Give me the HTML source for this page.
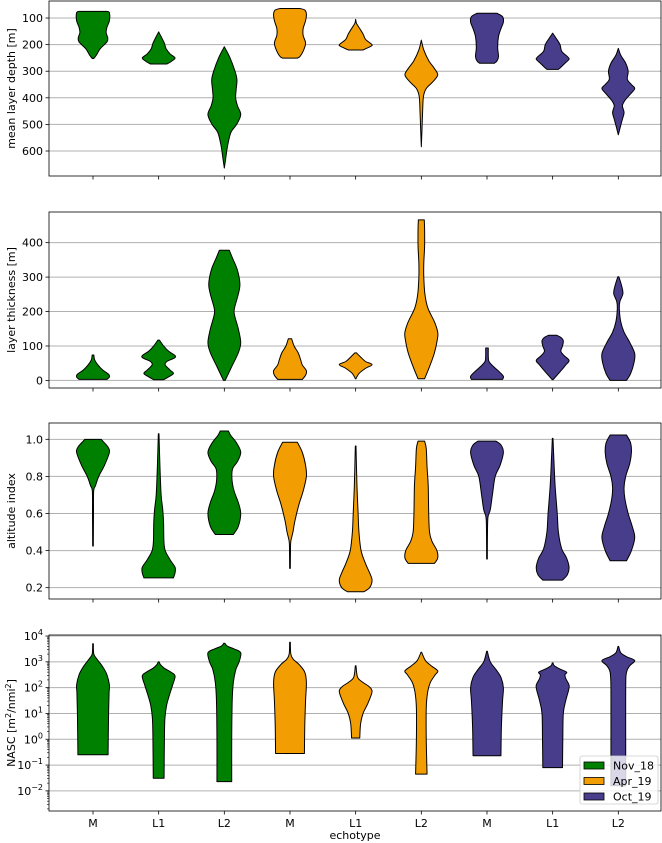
<!DOCTYPE html>
<html><head><meta charset="utf-8"><style>
body{margin:0;background:#fff;}
svg{display:block;font-family:"DejaVu Sans","Liberation Sans",sans-serif;}
</style></head><body>
<svg id="chart" width="662" height="843" viewBox="0 0 662 843" xmlns="http://www.w3.org/2000/svg"></svg>
<script>
const categories = ["M","L1","L2","M","L1","L2","M","L1","L2"];
const seasons = ["Nov_18","Apr_19","Oct_19"];
const seasonColors = ["#008000","#f29e02","#483d8b"];
const depthTicks = [100,200,300,400,500,600];
const thicknessTicks = [0,100,200,300,400];
const altitudeTicks = [0.2,0.4,0.6,0.8,1.0];
const nascTicks = [-2,-1,0,1,2,3,4];

const depthProfiles = [
 [[75,0.85],[80,1],[110,1],[135,0.85],[155,0.8],[175,0.9],[190,0.85],[215,0.45],[240,0.2],[252,0.05]],
 [[152,0],[170,0.15],[195,0.35],[215,0.45],[235,0.7],[250,1.0],[262,0.8],[273,0.5]],
 [[208,0],[250,0.35],[300,0.65],[332,0.77],[370,0.72],[400,0.69],[430,0.8],[463,1],[500,0.75],[530,0.4],[580,0.2],[630,0.08],[664,0]],
 [[64,0.6],[70,0.9],[85,1],[110,0.95],[140,0.8],[165,0.8],[195,0.95],[225,0.8],[245,0.6],[251,0.45]],
 [[105,0],[120,0.05],[140,0.25],[160,0.45],[180,0.6],[195,0.9],[203,1],[213,0.7],[220,0.45]],
 [[183,0],[220,0.15],[260,0.45],[290,0.8],[314,1],[340,0.7],[365,0.3],[395,0.13],[450,0.08],[520,0.04],[584,0]],
 [[82,0.6],[95,0.95],[115,1],[140,0.85],[170,0.7],[210,0.65],[245,0.7],[262,0.6],[270,0.45]],
 [[157,0],[175,0.2],[200,0.45],[225,0.55],[245,0.9],[255,1],[270,0.75],[285,0.5],[293,0.35]],
 [[214,0],[240,0.15],[270,0.45],[300,0.6],[330,0.55],[350,0.8],[365,1],[385,0.75],[410,0.4],[430,0.25],[455,0.35],[480,0.25],[510,0.12],[539,0]]
];
const thicknessProfiles = [
 [[3,0.85],[10,1],[18,0.95],[30,0.6],[45,0.3],[60,0.1],[74,0.05]],
 [[2,0.3],[10,0.6],[20,0.9],[30,0.7],[45,0.4],[55,0.5],[65,0.95],[72,1],[85,0.6],[100,0.3],[117,0.05]],
 [[0,0.05],[40,0.45],[80,0.85],[110,1],[150,0.85],[190,0.62],[210,0.62],[250,0.85],[280,0.95],[320,0.8],[355,0.5],[378,0.3]],
 [[3,0.75],[15,0.95],[28,1],[45,0.75],[60,0.65],[80,0.5],[100,0.25],[121,0.1]],
 [[5,0.02],[20,0.2],[35,0.6],[46,1],[55,0.6],[68,0.3],[80,0.05]],
 [[5,0.2],[40,0.5],[80,0.8],[120,0.98],[140,1],[170,0.8],[210,0.4],[250,0.22],[300,0.15],[340,0.15],[390,0.2],[440,0.2],[466,0.18]],
 [[3,0.95],[12,1],[25,0.75],[40,0.4],[55,0.12],[70,0.08],[94,0.08]],
 [[2,0.02],[25,0.45],[45,0.8],[58,1],[72,0.7],[85,0.5],[100,0.6],[115,0.65],[125,0.5],[131,0.25]],
 [[0,0.5],[20,0.75],[50,0.95],[78,1],[110,0.7],[140,0.35],[170,0.15],[210,0.06],[230,0.1],[252,0.28],[275,0.2],[301,0.03]]
];
const altitudeProfiles = [
 [[0.425,0.02],[0.6,0.03],[0.72,0.04],[0.75,0.15],[0.8,0.35],[0.86,0.7],[0.93,1],[0.96,0.9],[0.99,0.6],[1.0,0.5]],
 [[0.253,0.9],[0.28,1],[0.31,1],[0.35,0.7],[0.4,0.4],[0.45,0.32],[0.55,0.3],[0.62,0.25],[0.7,0.15],[0.85,0.08],[1.03,0.02]],
 [[0.487,0.55],[0.53,0.85],[0.6,1],[0.66,0.85],[0.72,0.6],[0.78,0.47],[0.84,0.5],[0.88,0.8],[0.93,1],[0.98,0.75],[1.02,0.4],[1.045,0.25]],
 [[0.304,0.02],[0.4,0.03],[0.45,0.05],[0.5,0.18],[0.56,0.3],[0.65,0.55],[0.72,0.8],[0.8,1],[0.86,0.95],[0.93,0.75],[0.984,0.45]],
 [[0.178,0.5],[0.2,0.85],[0.24,1],[0.28,0.85],[0.33,0.6],[0.4,0.33],[0.5,0.2],[0.6,0.15],[0.75,0.08],[0.964,0.02]],
 [[0.331,0.8],[0.36,1],[0.4,0.95],[0.45,0.65],[0.5,0.5],[0.6,0.45],[0.75,0.42],[0.85,0.35],[0.95,0.3],[0.99,0.2]],
 [[0.355,0.02],[0.5,0.03],[0.58,0.06],[0.62,0.2],[0.7,0.33],[0.8,0.5],[0.86,0.8],[0.93,1],[0.97,0.85],[0.99,0.55]],
 [[0.241,0.6],[0.27,0.9],[0.31,1],[0.36,0.85],[0.41,0.55],[0.5,0.35],[0.6,0.28],[0.75,0.15],[0.9,0.07],[1.005,0.02]],
 [[0.345,0.5],[0.4,0.8],[0.47,1],[0.53,0.85],[0.6,0.6],[0.68,0.4],[0.74,0.35],[0.8,0.45],[0.87,0.7],[0.93,0.8],[0.98,0.75],[1.023,0.5]]
];
const nascLog10Profiles = [
 [[-0.6,0.92],[0,0.93],[1,0.95],[1.8,0.98],[2.1,1],[2.5,0.85],[2.8,0.6],[3.1,0.25],[3.3,0.05],[3.7,0.02]],
 [[-1.51,0.33],[0,0.35],[0.8,0.38],[1.3,0.48],[1.7,0.65],[2.1,0.85],[2.45,1],[2.6,0.75],[2.75,0.35],[2.9,0.1],[3.0,0.03]],
 [[-1.64,0.45],[0,0.45],[1.5,0.48],[2.2,0.55],[2.7,0.7],[3.0,0.9],[3.35,1],[3.5,0.6],[3.6,0.2],[3.72,0.03]],
 [[-0.55,0.88],[0.5,0.9],[1.5,0.95],[2.2,1],[2.6,0.9],[2.9,0.55],[3.1,0.2],[3.3,0.05],[3.76,0.02]],
 [[0.05,0.25],[0.6,0.3],[1.0,0.45],[1.4,0.75],[1.85,1],[2.05,0.8],[2.2,0.45],[2.4,0.12],[2.85,0.02]],
 [[-1.35,0.35],[0,0.3],[1.2,0.3],[1.8,0.38],[2.2,0.55],[2.5,0.85],[2.65,1],[2.85,0.6],[3.05,0.25],[3.37,0.02]],
 [[-0.64,0.85],[0.5,0.88],[1.5,0.95],[2.0,1],[2.4,0.85],[2.7,0.55],[3.0,0.2],[3.41,0.02]],
 [[-1.1,0.6],[0,0.62],[1.0,0.65],[1.5,0.8],[1.9,0.97],[2.1,1],[2.35,0.8],[2.5,0.75],[2.6,0.85],[2.72,0.45],[2.85,0.1],[2.96,0.02]],
 [[-1.8,0.45],[0,0.45],[2.0,0.45],[2.6,0.5],[2.85,0.7],[3.05,1],[3.2,0.5],[3.35,0.15],[3.6,0.02]]
];

const NS="http://www.w3.org/2000/svg";
const svg=document.getElementById('chart');
function mk(tag,attrs,parent){const e=document.createElementNS(NS,tag);for(const k in attrs)e.setAttribute(k,attrs[k]);(parent||svg).appendChild(e);return e;}
const X0=49,X1=661,XMIN=-0.67,XMAX=8.65;
function xScale(i){return X0+(i-XMIN)/(XMAX-XMIN)*(X1-X0);}
const HALF=16.4;

const panels=[
 {name:'depth',top:1,bot:176,vTop:36,vBot:694,ticks:depthTicks,prof:depthProfiles,label:'mean layer depth [m]'},
 {name:'thickness',top:212,bot:388,vTop:489,vBot:-22,ticks:thicknessTicks,prof:thicknessProfiles,label:'layer thickness [m]'},
 {name:'altitude',top:423,bot:599,vTop:1.088,vBot:0.139,ticks:altitudeTicks,prof:altitudeProfiles,label:'altitude index'},
 {name:'nasc',top:635,bot:811,vTop:4.04,vBot:-2.78,ticks:nascTicks,prof:nascLog10Profiles,label:'NASC',log:true}
];

function smoothPath(pts){
 let d='';
 for(let i=0;i<pts.length-1;i++){
  const p0=pts[Math.max(i-1,0)],p1=pts[i],p2=pts[i+1],p3=pts[Math.min(i+2,pts.length-1)];
  const c1=[p1[0]+(p2[0]-p0[0])/6,p1[1]+(p2[1]-p0[1])/6];
  const c2=[p2[0]-(p3[0]-p1[0])/6,p2[1]-(p3[1]-p1[1])/6];
  d+=' C'+c1[0].toFixed(2)+','+c1[1].toFixed(2)+' '+c2[0].toFixed(2)+','+c2[1].toFixed(2)+' '+p2[0].toFixed(2)+','+p2[1].toFixed(2);
 }
 return d;
}

panels.forEach((p,pi)=>{
 const g=mk('g',{});
 
 
 const yScale=v=>p.top+(v-p.vTop)/(p.vBot-p.vTop)*(p.bot-p.top);
 p.ticks.forEach(t=>{
  const y=yScale(t);
  const gl=mk('line',{x1:X0,x2:X1,y1:y,y2:y,stroke:'#b0b0b0','stroke-width':1},g);
  
  
  mk('line',{x1:X0-3.5,x2:X0,y1:y,y2:y,stroke:'#000','stroke-width':0.8},g);
  const tx=mk('text',{x:X0-6,y:y+4,'text-anchor':'end','font-size':'11',fill:'#000'},g);
  
  
  if(p.log){
   tx.appendChild(document.createTextNode('10'));
   const s=mk('tspan',{dy:-5,'font-size':'8'},tx);
   s.textContent=(t<0?'\u2212'+(-t):String(t));
  } else {
   tx.textContent=(p.name==='altitude')?t.toFixed(1):String(t);
  }
 });
 if(p.log){
  for(let e=Math.floor(p.vBot);e<Math.ceil(p.vTop);e++){
   for(let k=2;k<=9;k++){
    const v=e+Math.log10(k);
    if(v>p.vTop||v<p.vBot)continue;
    const y=yScale(v);
    mk('line',{x1:X0-2,x2:X0,y1:y,y2:y,stroke:'#000','stroke-width':0.6},g);
   }
  }
 }
 p.prof.forEach((prof,i)=>{
  const cx=xScale(i);
  const right=prof.map(q=>[cx+q[1]*HALF,yScale(q[0])]);
  const left=prof.slice().reverse().map(q=>[cx-q[1]*HALF,yScale(q[0])]);
  let d='M'+left[left.length-1][0].toFixed(2)+','+right[0][1].toFixed(2)+' L'+right[0][0].toFixed(2)+','+right[0][1].toFixed(2);
  d+=smoothPath(right);
  d+=' L'+left[0][0].toFixed(2)+','+left[0][1].toFixed(2);
  d+=smoothPath(left)+' Z';
  const path=mk('path',{d:d,fill:seasonColors[Math.floor(i/3)],stroke:'#000','stroke-width':1,'stroke-linejoin':'round'},g);
  
  
 });
 const fr=mk('rect',{x:X0,y:p.top,width:X1-X0,height:p.bot-p.top,fill:'none',stroke:'#000','stroke-width':0.8},g);
 
 
 categories.forEach((c,i)=>{
  const x=xScale(i);
  mk('line',{x1:x,x2:x,y1:p.bot,y2:p.bot+3.5,stroke:'#000','stroke-width':0.8},g);
  if(pi===3){
   const t=mk('text',{x:x,y:p.bot+16,'text-anchor':'middle','font-size':'11'},g);
   
   
   t.textContent=c;
  }
 });
 const cy=(p.top+p.bot)/2;
 const yl=mk('text',{x:0,y:0,transform:'translate(15,'+cy+') rotate(-90)','text-anchor':'middle','font-size':'11'},g);
 
 
 if(p.log){
  yl.appendChild(document.createTextNode('NASC [m'));
  let s=mk('tspan',{dy:-4,'font-size':'8'},yl);s.textContent='2';
  let s2=mk('tspan',{dy:4},yl);s2.textContent='/nmi';
  let s3=mk('tspan',{dy:-4,'font-size':'8'},yl);s3.textContent='2';
  let s4=mk('tspan',{dy:4},yl);s4.textContent=']';
 } else yl.textContent=p.label;
});

const xt=mk('text',{x:355,y:839,'text-anchor':'middle','font-size':'11'});


xt.textContent='echotype';

const lg=mk('g',{});


mk('rect',{x:580,y:756,width:78,height:48,rx:2,fill:'#fff','fill-opacity':0.8,stroke:'#cccccc','stroke-width':0.8},lg);
seasons.forEach((s,i)=>{
 const y=762+i*15.5;
 const r=mk('rect',{x:584,y:y,width:20,height:7,fill:seasonColors[i],stroke:'#000','stroke-width':0.8},lg);
 
 
 const t=mk('text',{x:613,y:y+7.5,'font-size':'11'},lg);
 
 
 t.textContent=s;
});
</script>
</body></html>
